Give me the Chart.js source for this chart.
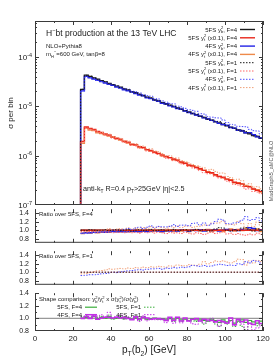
<!DOCTYPE html>
<html>
<head>
<meta charset="utf-8">
<script src="https://cdn.jsdelivr.net/npm/chart.js@4/dist/chart.umd.min.js"></script>
<style>
html, body { margin: 0; padding: 0; background: #fff; }
#wrap { position: relative; width: 277px; height: 360px; }
.p { position: absolute; left: 0; width: 277px; }
</style>
</head>
<body>
<div id="wrap">
  <div class="p" style="top:0;height:211px"><canvas id="cMain"></canvas></div>
  <div class="p" style="top:199px;height:54px"><canvas id="cR1"></canvas></div>
  <div class="p" style="top:241px;height:54px"><canvas id="cR2"></canvas></div>
  <div class="p" style="top:283px;height:77px"><canvas id="cShape"></canvas></div>
</div>
<script>
// bin edges in GeV (2 GeV bins)
const binEdges = [24,26,28,30,32,34,36,38,40,42,44,46,48,50,52,54,56,58,60,62,64,66,68,70,72,
  74,76,78,80,82,84,86,88,90,92,94,96,98,100,102,104,106,108,110,112,114,116,118,120];

// 5FS y_b^2, F=4  (sigma per bin)
const sigmaYb5FS_F4 = [2.21e-5,4.30e-5,4.04e-5,3.77e-5,3.56e-5,3.32e-5,3.13e-5,2.92e-5,2.76e-5,2.57e-5,
  2.43e-5,2.26e-5,2.14e-5,1.99e-5,1.88e-5,1.75e-5,1.66e-5,1.54e-5,1.46e-5,1.35e-5,
  1.29e-5,1.19e-5,1.13e-5,1.05e-5,9.90e-6,9.25e-6,8.72e-6,8.12e-6,7.68e-6,7.14e-6,
  6.76e-6,6.28e-6,5.95e-6,5.52e-6,5.24e-6,4.86e-6,4.61e-6,4.28e-6,4.05e-6,3.76e-6,
  3.57e-6,3.31e-6,3.14e-6,2.91e-6,2.77e-6,2.56e-6,2.44e-6,2.26e-6];

// y_t^2 (x0.1) relative to y_b^2, 5FS F=4
const ytScale = 0.088;
const shape5FS_F4 = [1.00,1.01,1.00,1.02,0.99,1.01,1.00,1.02,0.99,1.00,
  1.01,0.99,1.00,0.98,1.00,0.99,1.01,0.98,0.99,1.00,
  0.98,0.99,0.97,0.99,0.98,1.00,0.97,0.98,0.96,0.99,
  0.97,0.98,0.96,0.95,0.98,0.96,0.93,0.97,0.94,0.96,
  0.92,0.95,0.97,0.93,0.96,0.94,0.92,0.95];

// ratios over 5FS, F=4
const ratioYb5FS_F1 = [1.00,0.99,1.01,1.00,0.99,1.00,1.01,0.99,1.00,1.01,
  0.99,1.00,1.01,0.98,1.00,1.01,0.99,1.00,1.02,0.99,
  1.00,1.01,0.98,1.00,1.02,0.99,1.00,1.01,0.98,1.00,
  1.02,0.99,1.01,0.98,1.00,1.03,1.06,1.05,1.00,0.98,
  1.01,0.99,1.05,1.06,1.01,0.98,1.03,1.00];
const ratioYt5FS_F1 = [0.97,0.96,0.97,0.96,0.95,0.96,0.95,0.96,0.94,0.95,
  0.95,0.94,0.96,0.94,0.95,0.93,0.95,0.94,0.96,0.93,
  0.95,0.94,0.92,0.95,0.93,0.94,0.92,0.95,0.93,0.91,
  0.94,0.92,0.90,0.93,0.95,0.92,0.94,0.96,0.91,0.93,
  0.90,0.92,0.89,0.88,0.91,0.89,0.93,0.90];
const ratioYb4FS_F4 = [0.93,0.94,0.94,0.95,0.95,0.96,0.95,0.96,0.97,0.96,
  0.97,0.96,0.97,0.98,0.97,0.97,0.98,0.97,0.98,0.99,
  0.98,0.97,0.99,0.98,0.99,0.98,1.00,0.99,0.98,1.00,
  0.99,1.01,0.98,1.00,0.99,1.01,0.98,1.00,1.02,0.99,
  1.01,0.99,1.02,1.00,1.06,1.04,0.99,1.01];
const ratioYt4FS_F4 = [0.92,0.95,0.93,0.96,0.94,0.95,0.96,0.95,0.98,0.97,
  0.96,0.98,0.96,0.97,0.99,0.96,0.98,0.99,0.97,0.98,
  0.99,0.96,0.98,1.00,0.97,0.99,0.98,1.01,0.97,0.99,
  1.01,0.98,1.00,1.02,0.97,0.99,1.01,0.97,1.00,1.03,
  0.98,1.02,0.99,1.04,1.01,0.99,1.03,0.97];

// ratios over 5FS, F=1
const ratioYb4FS_F1 = [0.92,0.93,0.94,0.94,0.95,0.96,0.97,0.98,1.00,0.99,
  1.01,1.02,1.03,1.04,1.05,1.06,1.05,1.07,1.08,1.08,
  1.09,1.07,1.10,1.09,1.11,1.10,1.12,1.11,1.13,1.16,
  1.15,1.14,1.16,1.14,1.15,1.17,1.19,1.18,1.16,1.17,
  1.16,1.20,1.18,1.25,1.22,1.28,1.26,1.22];
const ratioYt4FS_F1 = [0.96,0.97,0.99,1.01,1.03,1.04,1.05,1.08,1.07,1.08,
  1.09,1.08,1.10,1.09,1.11,1.10,1.12,1.11,1.13,1.12,
  1.14,1.13,1.12,1.15,1.14,1.17,1.16,1.15,1.18,1.17,
  1.16,1.19,1.25,1.20,1.23,1.27,1.25,1.27,1.24,1.22,
  1.25,1.31,1.30,1.17,1.27,1.22,1.28,1.25];

// axes
const yMin = 1e-7, yMax = 5.37e-4;
const logTicks = [1e-7, 1e-6, 1e-5, 1e-4];
const logTickExp = ['-7', '-6', '-5', '-4'];
const ratioTicks = [0.8, 1, 1.2, 1.4];
const xTicks = [0, 20, 40, 60, 80, 100, 120];

const FF = '"Liberation Sans", Arial, Helvetica, sans-serif';
const INK = '#1a1a1a';

const mul = (a, b) => a.map((v, i) => v * b[i]);
const div = (a, b) => a.map((v, i) => v / b[i]);
const sum = a => a.reduce((t, v) => t + v, 0);

const s = {};
s.yb5F4 = sigmaYb5FS_F4;
s.yt5F4 = sigmaYb5FS_F4.map((v, i) => v * ytScale * shape5FS_F4[i]);
s.yb4F4 = mul(s.yb5F4, ratioYb4FS_F4);
s.yt4F4 = mul(s.yt5F4, ratioYt4FS_F4);
s.yb5F1 = mul(s.yb5F4, ratioYb5FS_F1);
s.yt5F1 = mul(s.yt5F4, ratioYt5FS_F1);
s.yb4F1 = mul(s.yb5F1, ratioYb4FS_F1);
s.yt4F1 = mul(s.yt5F1, ratioYt4FS_F1);

const keys = ['yb5F4', 'yt5F4', 'yb4F4', 'yt4F4', 'yb5F1', 'yt5F1', 'yb4F1', 'yt4F1'];
// stacking, bottom to top
const stack = ['yb5F4', 'yt4F4', 'yb4F4', 'yt5F4', 'yt4F1', 'yb4F1', 'yt5F1', 'yb5F1',
  'unity', 'sh5F4', 'sh5F1', 'sh4F4', 'sh4F1'];
const dot = [1.5, 1.5];
const styles = {
  yb5F4: {c: '#1a1a1a', w: 1.4, d: []},
  yt5F4: {c: '#e8261a', w: 1.4, d: []},
  yb4F4: {c: '#2222e6', w: 1.4, d: []},
  yt4F4: {c: '#ee8a4a', w: 1.4, d: []},
  yb5F1: {c: '#1a1a1a', w: 1, d: dot},
  yt5F1: {c: '#ff6464', w: 1, d: dot},
  yb4F1: {c: '#4a4aff', w: 1, d: dot},
  yt4F1: {c: '#f0a078', w: 1, d: dot},
  sh5F4: {c: '#3aae3a', w: 1.2, d: []},
  sh5F1: {c: '#3aae3a', w: 1, d: dot},
  sh4F4: {c: '#c22ee6', w: 1.5, d: []},
  sh4F1: {c: '#c22ee6', w: 1, d: dot},
  unity: {c: '#999999', w: 1.2, d: []}
};
const legendText = {
  yb5F4: ['5FS y', ['b', 'bp', '2'], ', F=4'],
  yt5F4: ['5FS y', ['t', 'bp', '2'], ' (x0.1), F=4'],
  yb4F4: ['4FS y', ['b', 'bp', '2'], ', F=4'],
  yt4F4: ['4FS y', ['t', 'bp', '2'], ' (x0.1), F=4'],
  yb5F1: ['5FS y', ['b', 'bp', '2'], ', F=1'],
  yt5F1: ['5FS y', ['t', 'bp', '2'], ' (x0.1), F=1'],
  yb4F1: ['4FS y', ['b', 'bp', '2'], ', F=1'],
  yt4F1: ['4FS y', ['t', 'bp', '2'], ' (x0.1), F=1']
};

function hist(vals, rise) {
  const pts = vals.map((v, i) => ({x: binEdges[i], y: v}));
  pts.push({x: binEdges[binEdges.length - 1], y: vals[vals.length - 1]});
  if (rise) pts.unshift({x: binEdges[0], y: yMin});
  return pts;
}
function ds(key, pts) {
  const st = styles[key];
  return {data: pts, borderColor: st.c, borderWidth: st.w, borderDash: st.d,
    stepped: true, pointRadius: 0, fill: false, order: 100 - stack.indexOf(key)};
}

function rich(ctx, parts, x, y, size, align) {
  const sm = size * 0.68;
  const segs = parts.map(p => {
    if (typeof p === 'string') p = [p, ''];
    const [t, m, t2] = p;
    ctx.font = (m ? sm : size) + 'px ' + FF;
    let w = ctx.measureText(t).width;
    if (m === 'bp') w = Math.max(w, ctx.measureText(t2).width);
    return {t, m, t2, w};
  });
  const total = sum(segs.map(g => g.w));
  let cx = align === 'right' ? x - total : align === 'center' ? x - total / 2 : x;
  ctx.textAlign = 'left';
  ctx.textBaseline = 'alphabetic';
  for (const g of segs) {
    ctx.font = (g.m ? sm : size) + 'px ' + FF;
    if (g.m === 'b') ctx.fillText(g.t, cx, y + size * 0.25);
    else if (g.m === 'p') ctx.fillText(g.t, cx, y - size * 0.42);
    else if (g.m === 'bp') {
      ctx.fillText(g.t, cx, y + size * 0.25);
      ctx.fillText(g.t2, cx, y - size * 0.42);
    } else ctx.fillText(g.t, cx, y);
    cx += g.w;
  }
}

function sample(ctx, st, x0, x1, y) {
  ctx.save();
  ctx.strokeStyle = st.c;
  ctx.lineWidth = st.w;
  ctx.setLineDash(st.d);
  ctx.beginPath();
  ctx.moveTo(x0, y);
  ctx.lineTo(x1, y);
  ctx.stroke();
  ctx.restore();
}

// frame with inward ticks on all four sides
const framePlugin = {
  id: 'frame',
  afterDatasetsDraw(chart, args, o) {
    const {ctx, chartArea: a, scales: {x, y}} = chart;
    ctx.save();
    ctx.strokeStyle = '#3a3a3a';
    ctx.lineWidth = 1;
    const L = a.left + 0.5, R = a.right - 0.5, T = a.top + 0.5, B = a.bottom - 0.5;
    ctx.beginPath();
    if (o.top) { ctx.moveTo(L, T); ctx.lineTo(R, T); }
    ctx.moveTo(L, a.top); ctx.lineTo(L, a.bottom);
    ctx.moveTo(R, a.top); ctx.lineTo(R, a.bottom);
    ctx.moveTo(L, B); ctx.lineTo(R, B);
    const xMinor = xTicks.slice(1).map((v, i) => (v + xTicks[i]) / 2);
    const xt = (v, len) => {
      const px = Math.round(x.getPixelForValue(v)) + 0.5;
      ctx.moveTo(px, a.top); ctx.lineTo(px, a.top + len);
      ctx.moveTo(px, a.bottom); ctx.lineTo(px, a.bottom - len);
    };
    xTicks.forEach(v => xt(v, 4));
    xMinor.forEach(v => xt(v, 2));
    const yt = (v, len) => {
      const py = Math.round(y.getPixelForValue(v)) + 0.5;
      if (py < a.top || py > a.bottom) return;
      ctx.moveTo(a.left, py); ctx.lineTo(a.left + len, py);
      ctx.moveTo(a.right, py); ctx.lineTo(a.right - len, py);
    };
    (o.yMajor || []).forEach(v => yt(v, 4));
    (o.yMinor || []).forEach(v => yt(v, 2));
    ctx.stroke();
    ctx.restore();
  }
};
Chart.register(framePlugin);

function xScale(show) {
  const sc = {type: 'linear', min: xTicks[0], max: xTicks[xTicks.length - 1], display: show,
    grid: {display: false, drawTicks: false}, border: {display: false}};
  if (show) {
    sc.ticks = {font: {family: FF, size: 8}, color: INK, padding: 3, maxRotation: 0, autoSkip: false};
    sc.afterBuildTicks = a => { a.ticks = xTicks.map(v => ({value: v})); };
    sc.afterFit = a => { a.height = 29; };
  }
  return sc;
}
function ratioScale(min, max) {
  return {type: 'linear', min: min, max: max,
    grid: {display: false, drawTicks: false}, border: {display: false},
    ticks: {font: {family: FF, size: 7}, color: INK, padding: 6, autoSkip: false},
    afterBuildTicks: a => { a.ticks = ratioTicks.map(v => ({value: v})); },
    afterFit: a => { a.width = 35; }};
}
function baseOptions(pad, scales, frame) {
  return {responsive: true, maintainAspectRatio: false, animation: false, events: [],
    layout: {padding: pad},
    plugins: {legend: {display: false}, tooltip: {enabled: false}, frame: frame},
    scales: scales};
}

// ---------- main panel ----------
const logMinor = [];
for (let e = -7; e <= -4; e++) for (let m = 2; m <= 9; m++) logMinor.push(m * Math.pow(10, e));

new Chart(document.getElementById('cMain'), {
  type: 'line',
  data: {datasets: keys.map(k => ds(k, hist(s[k], true)))},
  options: baseOptions({left: 0, top: 21, right: 14, bottom: 6}, {
    x: xScale(false),
    y: {type: 'logarithmic', min: yMin, max: yMax,
      grid: {display: false, drawTicks: false}, border: {display: false},
      ticks: {display: false},
      title: {display: true, text: 'σ per bin', color: INK, font: {family: FF, size: 8}, padding: {top: 6, bottom: 0}},
      afterFit: a => { a.width = 35; }}
  }, {top: true, yMajor: logTicks, yMinor: logMinor}),
  plugins: [{
    id: 'mainText',
    afterDraw(chart) {
      const ctx = chart.ctx, y = chart.scales.y;
      ctx.save();
      ctx.fillStyle = INK;
      logTicks.forEach((v, i) => rich(ctx, ['10', [logTickExp[i], 'p']], 32, y.getPixelForValue(v) + 3, 8, 'right'));
      rich(ctx, ['H', ['−', 'p'], 'bt production at the 13 TeV LHC'], 46, 36, 8.5, 'left');
      rich(ctx, ['NLO+Pythia8'], 46, 48, 6, 'left');
      rich(ctx, ['m', ['H', 'b'], ['−', 'p'], '=600 GeV, tanβ=8'], 46, 56, 6, 'left');
      rich(ctx, ['anti-k', ['T', 'b'], ' R=0.4 p', ['T', 'b'], '>25GeV |η|<2.5'], 83, 191, 7.2, 'left');
      keys.forEach((k, i) => {
        const cy = 29.5 + i * 8.3;
        ctx.fillStyle = INK;
        rich(ctx, legendText[k], 237, cy + 2, 6, 'right');
        sample(ctx, styles[k], 240, 255, cy);
      });
      ctx.save();
      ctx.fillStyle = '#555';
      ctx.translate(271, 171);
      ctx.rotate(-Math.PI / 2);
      rich(ctx, ['MadGraph5_aMC@NLO'], 0, 2, 5.5, 'center');
      ctx.restore();
      ctx.restore();
    }
  }]
});

// ---------- ratio over 5FS, F=4 ----------
const r1Base = {yb5F4: s.yb5F4, yt5F4: s.yt5F4, yb4F4: s.yb5F4, yt4F4: s.yt5F4,
  yb5F1: s.yb5F4, yt5F1: s.yt5F4, yb4F1: s.yb5F4, yt4F1: s.yt5F4};
new Chart(document.getElementById('cR1'), {
  type: 'line',
  data: {datasets: keys.map(k => ds(k, hist(div(s[k], r1Base[k]), false)))},
  options: baseOptions({left: 0, top: 6, right: 14, bottom: 6},
    {x: xScale(false), y: ratioScale(0.7, 1.5)},
    {top: false, yMajor: ratioTicks, yMinor: [0.9, 1.1, 1.3]}),
  plugins: [{
    id: 'r1Text',
    afterDraw(chart) {
      const ctx = chart.ctx;
      ctx.fillStyle = INK;
      rich(ctx, ['Ratio over 5FS, F=4'], 39, chart.chartArea.top + 6.5, 6, 'left');
    }
  }]
});

// ---------- ratio over 5FS, F=1 ----------
const r2Keys = ['yb5F1', 'yt5F1', 'yb4F1', 'yt4F1'];
const r2Base = {yb5F1: s.yb5F1, yt5F1: s.yt5F1, yb4F1: s.yb5F1, yt4F1: s.yt5F1};
new Chart(document.getElementById('cR2'), {
  type: 'line',
  data: {datasets: r2Keys.map(k => ds(k, hist(div(s[k], r2Base[k]), false)))},
  options: baseOptions({left: 0, top: 6, right: 14, bottom: 6},
    {x: xScale(false), y: ratioScale(0.7, 1.5)},
    {top: false, yMajor: ratioTicks, yMinor: [0.9, 1.1, 1.3]}),
  plugins: [{
    id: 'r2Text',
    afterDraw(chart) {
      const ctx = chart.ctx;
      ctx.fillStyle = INK;
      rich(ctx, ['Ratio over 5FS, F=1'], 39, chart.chartArea.top + 6.5, 6, 'left');
    }
  }]
});

// ---------- shape comparison ----------
function shapeOf(yt, yb) {
  const n = sum(yb) / sum(yt);
  return yt.map((v, i) => v / yb[i] * n);
}
const shapes = {
  sh5F4: shapeOf(s.yt5F4, s.yb5F4),
  sh5F1: shapeOf(s.yt5F1, s.yb5F1),
  sh4F4: shapeOf(s.yt4F4, s.yb4F4),
  sh4F1: shapeOf(s.yt4F1, s.yb4F1)
};
const shKeys = ['sh5F4', 'sh5F1', 'sh4F4', 'sh4F1'];
const unity = 1;
const unityLine = ds('unity', [{x: xTicks[0], y: unity}, {x: xTicks[xTicks.length - 1], y: unity}]);
new Chart(document.getElementById('cShape'), {
  type: 'line',
  data: {datasets: [unityLine].concat(shKeys.map(k => ds(k, hist(shapes[k], false))))},
  options: baseOptions({left: 0, top: 6, right: 14, bottom: 0},
    {x: xScale(true), y: ratioScale(0.8, 1.4)},
    {top: false, yMajor: ratioTicks, yMinor: [0.9, 1.1, 1.3]}),
  plugins: [{
    id: 'shText',
    afterDraw(chart) {
      const ctx = chart.ctx, a = chart.chartArea;
      ctx.fillStyle = INK;
      rich(ctx, ['Shape comparison: y', ['b', 'bp', '2'], '/y', ['t', 'bp', '2'], ' x σ(y', ['t', 'bp', '2'],
        ')/σ(y', ['b', 'bp', '2'], ')'], 39, a.top + 8, 6, 'left');
      const rows = [
        [['5FS, F=4'], 'sh5F4', 82, 14], [['5FS, F=1'], 'sh5F1', 141, 14],
        [['4FS, F=4'], 'sh4F4', 82, 21.5], [['4FS, F=1'], 'sh4F1', 141, 21.5]
      ];
      rows.forEach(([t, k, xr, dy]) => {
        ctx.fillStyle = INK;
        rich(ctx, t, xr, a.top + dy + 2, 6, 'right');
        sample(ctx, styles[k], xr + 3, xr + 15, a.top + dy);
      });
      ctx.fillStyle = INK;
      rich(ctx, ['p', ['T', 'b'], '(b', ['2', 'b'], ') [GeV]'], (a.left + a.right) / 2, a.bottom + 22, 10, 'center');
    }
  }]
});
</script>
</body>
</html>
